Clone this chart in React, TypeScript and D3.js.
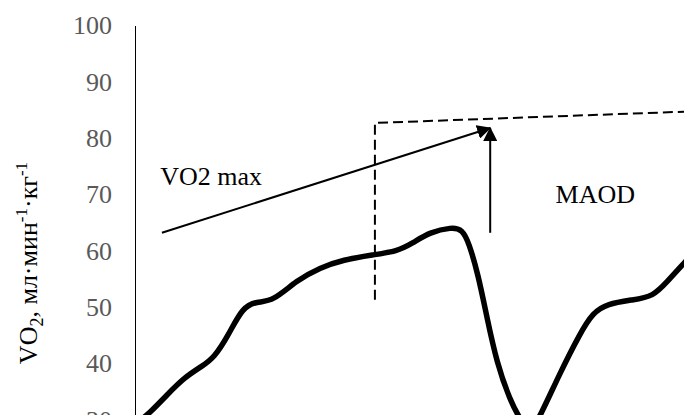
import React, { useEffect, useRef } from "react";
import * as d3 from "d3";

// VO2 curve (x = relative time 0..100)
const timeX = [-1, 0.5, 2.7, 5.8, 9.1, 12.2, 14.4, 17.0, 19.6, 22.2, 25.1, 29.5, 33.7, 37.9, 43.4, 47.7, 50.6, 53.7, 57.7, 59.6, 60.8, 62.5, 64.1, 65.9, 68.3, 70.1, 71.9, 73.8, 77.4, 81.1, 83.4, 86.0, 90.7, 94.4, 96.9, 100, 103];
const vo2 = [28, 29.6, 31.2, 34.4, 37.6, 39.5, 41.0, 45.0, 50.0, 51.0, 51.0, 54.8, 57.0, 58.4, 59.3, 59.9, 61.4, 63.3, 64.2, 63.8, 61.5, 55.8, 48.2, 40.1, 33.5, 30.2, 27.6, 30.6, 38.3, 45.4, 49.0, 50.6, 51.3, 51.9, 54.5, 57.8, 61];

const yTicks = [30, 40, 50, 60, 70, 80, 90, 100];

// annotation geometry in data units
const dashedBox = [
  [43.7, 51.3],
  [43.7, 82.7],
  [100, 84.7],
];
const vo2maxArrow = [
  [4.9, 63.2],
  [64.7, 81.8],
];
const maodArrow = [
  [64.7, 63.2],
  [64.7, 81.8],
];
const labels = [
  { text: "VO2 max", x: 4.6, y: 71.7 },
  { text: "MAOD", x: 76.6, y: 68.5 },
];

const W = 684;
const H = 415;
const font = "'Liberation Serif', 'Times New Roman', serif";

export default function App() {
  const axisRef = useRef<SVGGElement>(null);

  const x = d3.scaleLinear().domain([0, 100]).range([135, 684]);
  const y = d3.scaleLinear().domain([30, 100]).range([419.8, 25.5]);

  useEffect(() => {
    const g = d3.select(axisRef.current);
    g.call(
      d3.axisLeft(y).tickValues(yTicks).tickSize(0).tickSizeOuter(0).tickPadding(23).tickFormat(d3.format("d"))
    );
    g.select(".domain").attr("stroke", "#000").attr("stroke-width", 1);
    g.selectAll("text")
      .attr("font-family", font)
      .attr("font-size", 26)
      .attr("fill", "#595959");
  }, []);

  const line = d3
    .line<number>()
    .x((_, i) => x(timeX[i]))
    .y((d) => y(d))
    .curve(d3.curveBasis);

  const seg = d3
    .line<number[]>()
    .x((d) => x(d[0]))
    .y((d) => y(d[1]));

  return (
    <svg width={W} height={H} style={{ position: "absolute", left: 0, top: 0, background: "#fff" }}>
      <defs>
        <marker
          id="head"
          markerUnits="userSpaceOnUse"
          viewBox="0 0 14 14"
          markerWidth={14}
          markerHeight={14}
          refX={13}
          refY={7}
          orient="auto"
        >
          <path d="M0,0 L14,7 L0,14 z" fill="#000" />
        </marker>
      </defs>
      <g ref={axisRef} transform="translate(135,0)" />
      <text
        transform="translate(37,263) rotate(-90)"
        textAnchor="middle"
        fontFamily={font}
        fontSize={26}
        fill="#000"
      >
        VO<tspan fontSize={18} dy={6}>2</tspan>
        <tspan dy={-6}>, мл·мин</tspan>
        <tspan fontSize={17} dy={-10}>-1</tspan>
        <tspan dy={10}>·кг</tspan>
        <tspan fontSize={17} dy={-10}>-1</tspan>
      </text>

      <path d={seg(dashedBox) ?? ""} fill="none" stroke="#000" strokeWidth={2} strokeDasharray="10,5" />
      <path d={line(vo2) ?? ""} fill="none" stroke="#000" strokeWidth={5.5} strokeLinejoin="round" />
      <path d={seg(vo2maxArrow) ?? ""} fill="none" stroke="#000" strokeWidth={2} markerEnd="url(#head)" />
      <path d={seg(maodArrow) ?? ""} fill="none" stroke="#000" strokeWidth={2} markerEnd="url(#head)" />

      {labels.map((l) => (
        <text key={l.text} x={x(l.x)} y={y(l.y)} fontFamily={font} fontSize={26} fill="#000">
          {l.text}
        </text>
      ))}
    </svg>
  );
}
